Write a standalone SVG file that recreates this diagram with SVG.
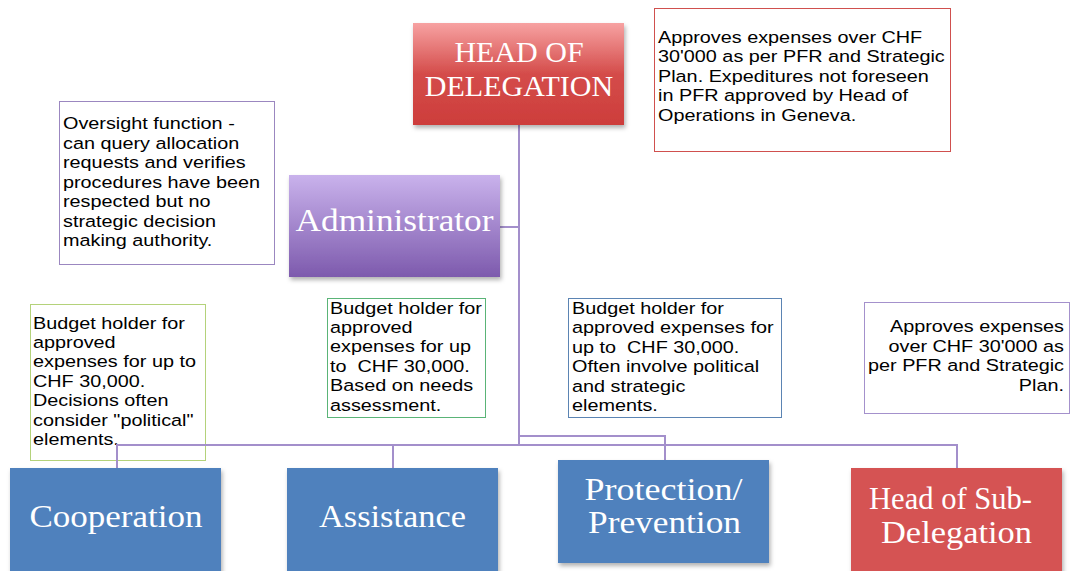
<svg xmlns="http://www.w3.org/2000/svg" width="1071" height="571" viewBox="0 0 1071 571">
<style>
.note{fill:#ffffff;stroke-width:1}
.nt{font-family:"Liberation Sans",Arial,sans-serif;font-size:16.8px;fill:#000000}
.hd{font-family:"Liberation Serif","Times New Roman",serif;fill:#ffffff;text-anchor:middle}
.conn{fill:none;stroke:#a38fcb;stroke-width:2}
</style>
<defs>
<linearGradient id="gRed" x1="0" y1="0" x2="0" y2="1">
<stop offset="0" stop-color="#f7a2a2"/>
<stop offset="0.5" stop-color="#d44c4a"/>
<stop offset="1" stop-color="#cd3d3b"/>
</linearGradient>
<linearGradient id="gPur" x1="0" y1="0" x2="0" y2="1">
<stop offset="0" stop-color="#c9b2ec"/>
<stop offset="1" stop-color="#7d5aad"/>
</linearGradient>
<filter id="sh" x="-10%" y="-10%" width="125%" height="130%">
<feDropShadow dx="1.5" dy="3" stdDeviation="2" flood-color="#000" flood-opacity="0.3"/>
</filter>
</defs>

<g id="note-oversight">
<rect class="note" x="59.5" y="101.5" width="215" height="163" stroke="#9b87c0"/>
<g transform="matrix(1.18,0,0,1,-11.34,0)">
<text class="nt" x="63"><tspan x="63" y="129">Oversight function -</tspan><tspan x="63" y="149">can query allocation</tspan><tspan x="63" y="168">requests and verifies</tspan><tspan x="63" y="188">procedures have been</tspan><tspan x="63" y="207">respected but no</tspan><tspan x="63" y="227">strategic decision</tspan><tspan x="63" y="246">making authority.</tspan></text>
</g>
</g>

<g id="note-hod">
<rect class="note" x="654.5" y="8.5" width="296" height="143" stroke="#d0504e"/>
<g transform="matrix(1.18,0,0,1,-118.44,0)">
<text class="nt" x="658"><tspan x="658" y="43">Approves expenses over CHF</tspan><tspan x="658" y="62">30'000 as per PFR and Strategic</tspan><tspan x="658" y="82">Plan. Expeditures not foreseen</tspan><tspan x="658" y="101">in PFR approved by Head of</tspan><tspan x="658" y="121">Operations in Geneva.</tspan></text>
</g>
</g>

<g id="note-cooperation">
<rect class="note" x="30.5" y="304.5" width="175" height="156" stroke="#b4d27a"/>
<g transform="matrix(1.18,0,0,1,-5.94,0)">
<text class="nt" x="33"><tspan x="33" y="329">Budget holder for</tspan><tspan x="33" y="348">approved</tspan><tspan x="33" y="367">expenses for up to</tspan><tspan x="33" y="387">CHF 30,000.</tspan><tspan x="33" y="406">Decisions often</tspan><tspan x="33" y="426">consider "political"</tspan><tspan x="33" y="445">elements.</tspan></text>
</g>
</g>

<g id="note-assistance">
<rect class="note" x="327.5" y="298.5" width="158" height="119" stroke="#5ab477"/>
<g transform="matrix(1.18,0,0,1,-59.4,0)">
<text class="nt" x="330" xml:space="preserve"><tspan x="330" y="314">Budget holder for</tspan><tspan x="330" y="333">approved</tspan><tspan x="330" y="352">expenses for up</tspan><tspan x="330" y="372">to  CHF 30,000.</tspan><tspan x="330" y="391">Based on needs</tspan><tspan x="330" y="411">assessment.</tspan></text>
</g>
</g>

<g id="note-protection">
<rect class="note" x="568.5" y="298.5" width="213" height="119" stroke="#5b84b3"/>
<g transform="matrix(1.18,0,0,1,-102.96,0)">
<text class="nt" x="572" xml:space="preserve"><tspan x="572" y="314">Budget holder for</tspan><tspan x="572" y="333">approved expenses for</tspan><tspan x="572" y="353">up to  CHF 30,000.</tspan><tspan x="572" y="372">Often involve political</tspan><tspan x="572" y="392">and strategic</tspan><tspan x="572" y="411">elements.</tspan></text>
</g>
</g>

<g id="note-subdelegation">
<rect class="note" x="864.5" y="302.5" width="205" height="111" stroke="#a491cc"/>
<g transform="matrix(1.18,0,0,1,-191.52,0)">
<text class="nt" x="1064" text-anchor="end"><tspan x="1064" y="332">Approves expenses</tspan><tspan x="1064" y="352">over CHF 30'000 as</tspan><tspan x="1064" y="371">per PFR and Strategic</tspan><tspan x="1064" y="391">Plan.</tspan></text>
</g>
</g>

<g id="connectors">
<polyline class="conn" points="519,125 519,445"/>
<polyline class="conn" points="500,227 519,227"/>
<polyline class="conn" points="117,468 117,445 957,445 957,468"/>
<polyline class="conn" points="393,445 393,468"/>
<polyline class="conn" points="519,436 665,436 665,460"/>
</g>

<g id="node-hod">
<rect x="413" y="23" width="211" height="102" fill="url(#gRed)" filter="url(#sh)"/>
<text class="hd" font-size="30" x="519" y="62">HEAD OF</text>
<text class="hd" font-size="30" x="519" y="96">DELEGATION</text>
</g>

<g id="node-administrator">
<rect x="289" y="175" width="211" height="102" fill="url(#gPur)" filter="url(#sh)"/>
<text class="hd" font-size="32" x="394.5" y="231" textLength="198" lengthAdjust="spacingAndGlyphs">Administrator</text>
</g>

<g id="node-cooperation">
<rect x="10" y="468" width="211" height="110" fill="#4f81bd" filter="url(#sh)"/>
<text class="hd" font-size="32" x="116" y="527" textLength="173" lengthAdjust="spacingAndGlyphs">Cooperation</text>
</g>

<g id="node-assistance">
<rect x="287" y="468" width="211" height="110" fill="#4f81bd" filter="url(#sh)"/>
<text class="hd" font-size="32" x="392.5" y="527" textLength="147" lengthAdjust="spacingAndGlyphs">Assistance</text>
</g>

<g id="node-protection">
<rect x="558" y="460" width="211" height="103" fill="#4f81bd" filter="url(#sh)"/>
<text class="hd" font-size="32" x="663.5" y="500" textLength="158" lengthAdjust="spacingAndGlyphs">Protection/</text>
<text class="hd" font-size="32" x="664.5" y="533" textLength="153" lengthAdjust="spacingAndGlyphs">Prevention</text>
</g>

<g id="node-subdelegation">
<rect x="851" y="468" width="211" height="110" fill="#d55353" filter="url(#sh)"/>
<text class="hd" font-size="32" x="950.5" y="509" textLength="163" lengthAdjust="spacingAndGlyphs">Head of Sub-</text>
<text class="hd" font-size="32" x="956.5" y="543" textLength="151" lengthAdjust="spacingAndGlyphs">Delegation</text>
</g>
</svg>
